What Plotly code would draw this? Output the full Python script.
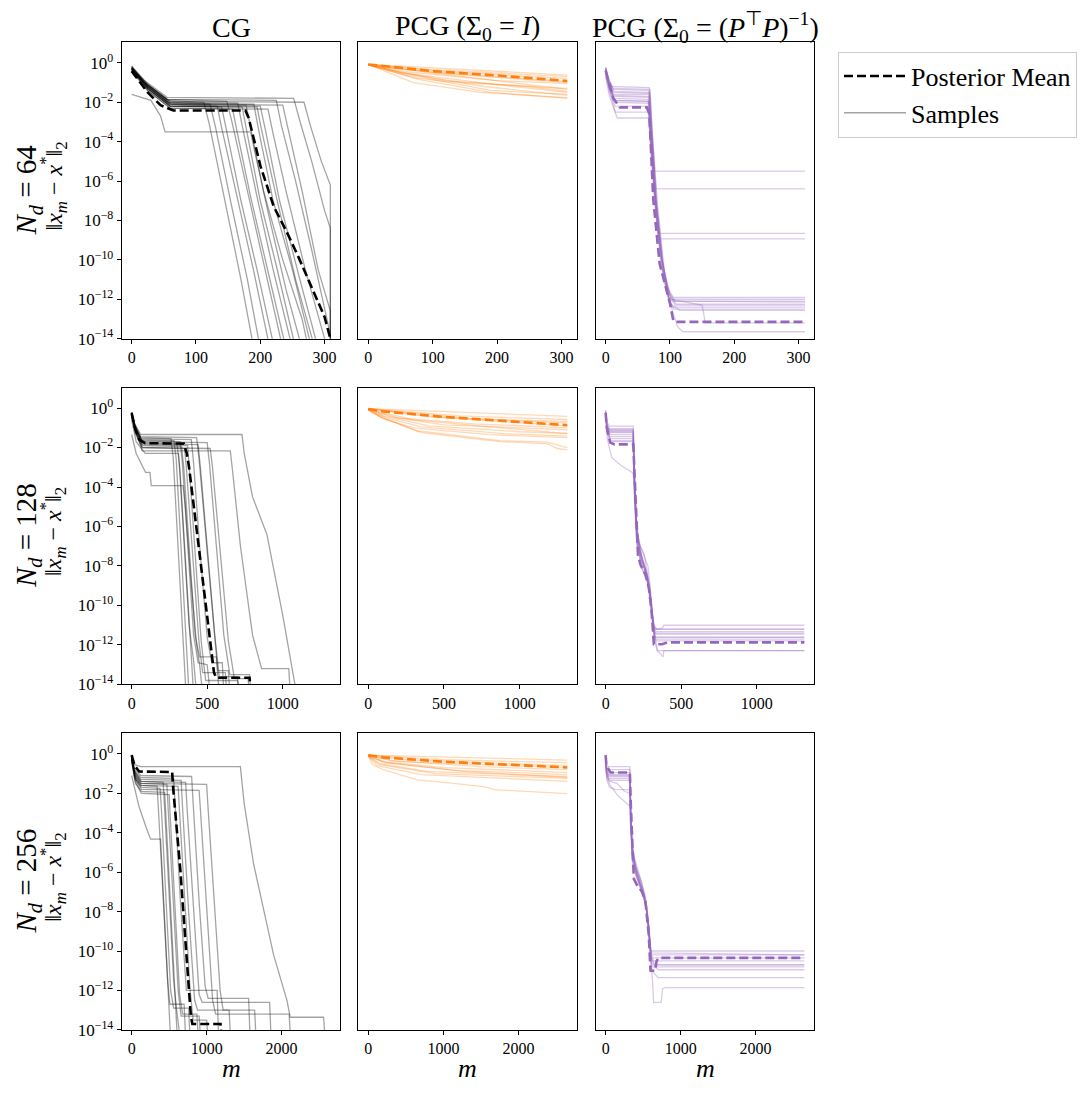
import plotly.graph_objects as go

# ---------------- data: (m, log10 error) keyframes ----------------
cg64_mean = [(0,-0.42),(10,-0.85),(25,-1.5),(45,-2.15),(65,-2.42),(177,-2.42),(182,-2.8),(200,-5.2),(221,-7.3),(240,-8.5),(260,-9.9),(280,-11.4),(300,-12.9),(309,-14.0)]
cg64_samples = [
 [(0,-0.2),(20,-1.0),(55,-1.9),(112,-2.0),(120,-3.0),(145,-7.0),(170,-11.0),(190,-14.5)],
 [(0,-0.3),(20,-1.1),(55,-2.0),(122,-2.1),(130,-3.2),(155,-7.2),(180,-11.0),(200,-14.5)],
 [(0,-0.25),(25,-1.2),(60,-2.1),(133,-2.2),(140,-3.3),(165,-7.0),(190,-10.6),(215,-14.5)],
 [(0,-0.35),(25,-1.3),(60,-2.2),(140,-2.25),(148,-3.5),(170,-7.0),(195,-10.5),(222,-14.5)],
 [(0,-0.3),(20,-1.0),(55,-1.85),(148,-1.95),(156,-3.0),(180,-6.5),(205,-10.0),(235,-14.5)],
 [(0,-0.4),(25,-1.4),(60,-2.3),(157,-2.35),(164,-3.5),(185,-6.8),(210,-10.3),(240,-14.5)],
 [(0,-0.2),(25,-1.1),(60,-2.0),(165,-2.05),(172,-3.2),(195,-6.8),(220,-10.5),(250,-14.5)],
 [(0,-0.3),(25,-1.3),(60,-2.2),(172,-2.25),(178,-3.3),(200,-7.0),(225,-10.3),(255,-14.5)],
 [(0,-1.6),(30,-1.9),(45,-2.7),(52,-3.5),(185,-3.5),(192,-4.6),(215,-8.0),(240,-11.5),(265,-14.5)],
 [(0,-0.35),(25,-1.2),(60,-2.1),(178,-2.15),(185,-3.3),(205,-6.5),(235,-10.0),(265,-13.0),(275,-14.5)],
 [(0,-0.25),(25,-1.2),(60,-2.05),(190,-2.1),(198,-3.5),(220,-7.0),(250,-10.5),(280,-14.5)],
 [(0,-0.3),(25,-1.3),(60,-2.2),(200,-2.2),(208,-3.4),(230,-7.0),(260,-10.8),(290,-14.5)],
 [(0,-0.4),(25,-1.4),(60,-2.3),(212,-2.35),(220,-3.6),(240,-6.5),(270,-10.5),(300,-14.0),(303,-15)],
 [(0,-0.2),(20,-1.0),(55,-1.85),(225,-1.9),(233,-3.2),(255,-6.0),(280,-9.5),(305,-13.3),(309,-13.8),(309,-15)],
 [(0,-0.3),(25,-1.2),(60,-2.1),(235,-2.15),(245,-3.6),(265,-6.5),(290,-10.5),(309,-12.6),(309,-15)],
 [(0,-0.15),(20,-0.9),(55,-1.75),(252,-1.8),(262,-3.0),(280,-5.0),(300,-7.5),(309,-8.4),(309,-15)],
 [(0,-0.25),(25,-1.1),(60,-1.95),(268,-2.0),(278,-3.2),(295,-5.0),(309,-6.2),(309,-15)],
 [(0,-0.3),(25,-1.3),(60,-2.2),(195,-2.25),(202,-3.4),(225,-6.8),(255,-11.0),(285,-14.5)],
]

pcgI64_mean = [(0,-0.08),(101,-0.42),(199,-0.64),(309,-0.92)]
pcgI64_samples = [
 [(0,-0.08),(309,-0.62)],
 [(0,-0.08),(100,-0.35),(309,-0.7)],
 [(0,-0.08),(50,-0.3),(150,-0.6),(309,-0.95)],
 [(0,-0.1),(60,-0.45),(200,-0.9),(309,-1.05)],
 [(0,-0.1),(70,-0.75),(120,-0.95),(309,-1.3)],
 [(0,-0.08),(40,-0.4),(120,-0.9),(250,-1.2),(309,-1.45)],
 [(0,-0.1),(60,-0.6),(190,-1.4),(309,-1.6)],
 [(0,-0.08),(70,-1.0),(174,-1.5),(309,-1.76)],
 [(0,-0.1),(80,-0.85),(190,-1.5),(309,-1.8)],
 [(0,-0.08),(50,-0.5),(200,-1.1),(309,-1.5)],
 [(0,-0.1),(100,-0.5),(309,-1.0)],
 [(0,-0.1),(150,-0.7),(250,-1.1),(309,-1.35)],
 [(0,-0.08),(120,-0.45),(309,-0.8)],
 [(0,-0.1),(60,-0.55),(180,-1.2),(309,-1.65)],
]

pcgP64_mean = [(0,-0.4),(5,-1.0),(12,-1.8),(22,-2.26),(64,-2.26),(68,-2.6),(74,-6.9),(84,-10.2),(100,-12.2),(105,-13.06),(108,-13.15),(310,-13.15)]
pcgP64_samples = [
 [(0,-0.2),(4,-0.8),(10,-1.2),(68,-1.26),(71,-3.0),(76,-5.5),(310,-5.5)],
 [(0,-0.3),(5,-0.9),(12,-1.35),(67,-1.4),(70,-3.2),(76,-6.0),(78,-6.4),(310,-6.4)],
 [(0,-0.4),(5,-1.0),(12,-1.5),(68,-1.55),(71,-3.4),(78,-7.0),(81,-8.66),(310,-8.66)],
 [(0,-0.35),(5,-1.1),(12,-1.65),(67,-1.7),(70,-3.5),(78,-7.0),(84,-8.93),(310,-8.93)],
 [(0,-0.3),(5,-1.0),(12,-1.8),(66,-1.85),(69,-3.4),(76,-6.5),(85,-9.5),(95,-11.3),(105,-11.9),(310,-11.9)],
 [(0,-0.5),(5,-1.2),(14,-1.9),(67,-1.95),(70,-3.6),(77,-6.8),(86,-9.8),(98,-11.6),(108,-12.1),(310,-12.1)],
 [(0,-0.4),(6,-1.3),(15,-2.0),(68,-2.05),(71,-3.8),(78,-7.0),(88,-10.0),(100,-11.8),(110,-12.25),(310,-12.25)],
 [(0,-0.6),(6,-1.5),(15,-2.2),(66,-2.2),(69,-3.8),(76,-7.0),(86,-10.2),(96,-11.8),(104,-12.4),(310,-12.4)],
 [(0,-0.3),(5,-1.2),(15,-2.5),(67,-2.5),(70,-4.0),(78,-7.5),(88,-10.5),(98,-12.0),(106,-12.5),(310,-12.5)],
 [(0,-0.7),(6,-1.7),(18,-2.8),(67,-2.8),(70,-4.2),(78,-7.5),(90,-10.8),(100,-12.2),(115,-12.56),(310,-12.56)],
 [(0,-0.45),(5,-1.1),(12,-1.6),(68,-1.6),(71,-3.4),(78,-6.9),(87,-9.9),(97,-11.6),(108,-12.3),(310,-12.3)],
 [(0,-0.35),(5,-1.0),(13,-1.45),(69,-1.5),(72,-3.3),(80,-7.2),(90,-10.5),(100,-12.2),(112,-13.4),(120,-13.65),(310,-13.65)],
 [(0,-0.5),(6,-1.3),(14,-1.9),(67,-1.95),(70,-3.7),(78,-7.0),(88,-10.2),(98,-11.9),(105,-12.0),(310,-12.0)],
 [(0,-0.3),(5,-0.9),(12,-1.7),(68,-1.75),(71,-3.5),(79,-7.2),(89,-10.3),(99,-12.0),(150,-12.3),(155,-13.2),(310,-13.2)],
 [(0,-0.25),(5,-0.85),(12,-1.3),(69,-1.35),(72,-3.2),(80,-7.0),(92,-10.8),(102,-12.1),(310,-12.15)],
]

cg128_mean = [(0,-0.25),(20,-0.95),(50,-1.6),(90,-1.78),(345,-1.8),(365,-2.3),(380,-3.0),(455,-7.8),(530,-12.6),(545,-13.4),(560,-13.66),(780,-13.66),(790,-14.5)]
cg128_samples = [
 [(0,-0.3),(20,-1.0),(60,-1.5),(260,-1.55),(275,-2.5),(300,-6.0),(330,-10.5),(360,-14.5)],
 [(0,-0.25),(20,-0.9),(60,-1.6),(280,-1.65),(295,-2.6),(320,-6.0),(350,-10.5),(380,-14.5)],
 [(0,-0.35),(25,-1.1),(70,-1.75),(300,-1.8),(315,-2.8),(345,-6.5),(380,-11.0),(410,-12.8),(430,-14.5)],
 [(0,-0.3),(25,-1.0),(70,-1.65),(320,-1.7),(335,-2.7),(370,-6.8),(410,-11.5),(440,-12.9),(500,-13.0),(520,-14.5)],
 [(0,-0.4),(25,-1.2),(70,-1.9),(330,-1.95),(345,-3.0),(380,-7.0),(420,-11.5),(450,-12.6),(560,-12.6),(580,-14.5)],
 [(0,-1.34),(30,-2.3),(92,-3.26),(121,-3.26),(130,-3.93),(340,-3.93),(355,-5.0),(390,-8.5),(430,-12.0),(450,-13.0),(470,-14.5)],
 [(0,-0.45),(25,-1.3),(70,-2.0),(350,-2.05),(362,-3.0),(400,-7.0),(445,-11.8),(470,-13.4),(620,-13.4),(630,-14.5)],
 [(0,-0.2),(20,-0.8),(60,-1.45),(430,-1.5),(445,-2.5),(490,-6.5),(540,-11.0),(570,-13.3),(640,-13.3),(650,-14.5)],
 [(0,-0.3),(25,-1.1),(70,-1.8),(440,-1.85),(455,-3.0),(500,-7.0),(550,-11.5),(580,-13.6),(700,-13.6),(710,-14.5)],
 [(0,-0.25),(25,-1.0),(70,-1.7),(500,-1.75),(515,-2.8),(560,-7.0),(610,-11.5),(650,-13.5),(780,-13.5),(790,-14.5)],
 [(0,-0.35),(25,-1.2),(70,-2.0),(520,-2.05),(535,-3.0),(590,-7.5),(640,-11.8),(680,-13.7),(770,-13.7),(780,-14.5)],
 [(0,-0.2),(20,-0.8),(60,-1.34),(730,-1.34),(745,-2.3),(800,-4.5),(895,-6.4),(1000,-10.5),(1092,-14.5)],
 [(0,-0.3),(25,-1.1),(70,-2.17),(653,-2.17),(668,-3.2),(720,-7.0),(800,-11.5),(860,-13.2),(1040,-13.2),(1050,-14.5)],
 [(0,-0.3),(25,-1.2),(70,-1.85),(370,-1.9),(383,-3.2),(420,-7.2),(460,-11.8),(490,-13.8),(700,-13.8),(720,-14.5)],
 [(0,-0.25),(20,-1.0),(60,-1.55),(395,-1.6),(410,-2.8),(450,-7.0),(500,-11.6),(530,-12.9),(600,-12.9),(610,-14.5)],
 [(0,-0.6),(30,-1.7),(90,-2.3),(310,-2.3),(322,-3.4),(355,-7.5),(390,-11.8),(410,-14.5)],
]

pcgI128_mean = [(0,-0.05),(100,-0.17),(500,-0.45),(1000,-0.7),(1315,-0.87)]
pcgI128_samples = [
 [(0,-0.03),(1315,-0.42)],
 [(0,-0.03),(600,-0.4),(1315,-0.58)],
 [(0,-0.03),(400,-0.45),(1315,-0.75)],
 [(0,-0.05),(200,-0.5),(700,-0.8),(1315,-1.0)],
 [(0,-0.05),(150,-0.45),(500,-0.85),(1315,-1.1)],
 [(0,-0.05),(100,-0.4),(400,-0.9),(1000,-1.2),(1315,-1.28)],
 [(0,-0.08),(120,-0.5),(350,-0.95),(900,-1.3),(1315,-1.42)],
 [(0,-0.08),(100,-0.55),(300,-1.0),(800,-1.35),(1315,-1.5)],
 [(0,-0.1),(80,-0.45),(320,-1.15),(870,-1.65),(1180,-1.73),(1315,-2.0)],
 [(0,-0.12),(100,-0.5),(350,-1.25),(870,-1.7),(1180,-1.8),(1250,-2.05),(1315,-2.12)],
 [(0,-0.05),(300,-0.6),(1315,-1.3)],
 [(0,-0.03),(500,-0.5),(1315,-0.9)],
 [(0,-0.04),(700,-0.55),(1315,-0.68)],
]

pcgP128_mean = [(0,-0.25),(8,-1.0),(30,-1.75),(60,-1.84),(183,-1.84),(198,-4.77),(214,-7.44),(231,-7.94),(264,-8.44),(286,-9.11),(302,-10.12),(315,-11.45),(319,-11.96),(374,-11.96),(407,-11.87),(1315,-11.87)]
pcgP128_samples = [
 [(0,-0.1),(8,-0.7),(25,-0.92),(183,-0.92),(190,-3.0),(205,-6.0),(225,-7.2),(260,-8.0),(290,-9.0),(310,-10.5),(325,-11.2),(1315,-11.2)],
 [(0,-0.2),(8,-0.8),(25,-1.05),(182,-1.05),(190,-3.2),(206,-6.3),(230,-7.5),(270,-8.3),(295,-9.4),(315,-10.8),(330,-11.32),(1315,-11.32)],
 [(0,-0.15),(8,-0.9),(25,-1.15),(184,-1.15),(192,-3.5),(208,-6.6),(240,-7.2),(280,-8.0),(300,-9.5),(318,-11.0),(340,-11.2),(375,-11.15),(385,-11.0),(1315,-11.0)],
 [(0,-0.3),(10,-1.0),(30,-1.25),(181,-1.25),(188,-3.3),(200,-5.5),(215,-6.5),(240,-7.8),(275,-8.6),(300,-9.8),(320,-11.3),(335,-11.45),(1315,-11.45)],
 [(0,-0.25),(10,-1.1),(30,-1.35),(183,-1.35),(190,-3.6),(205,-6.2),(230,-7.0),(255,-7.4),(285,-8.8),(310,-10.6),(325,-11.6),(1315,-11.62)],
 [(0,-0.4),(10,-1.2),(30,-1.45),(182,-1.45),(190,-3.6),(206,-6.5),(235,-7.6),(270,-8.4),(300,-9.8),(318,-11.2),(330,-11.7),(1315,-11.7)],
 [(0,-0.2),(10,-1.0),(30,-1.55),(183,-1.55),(191,-3.7),(207,-6.8),(235,-8.0),(280,-8.9),(305,-10.5),(322,-11.5),(335,-11.79),(1315,-11.79)],
 [(0,-0.5),(10,-1.3),(30,-1.65),(182,-1.65),(189,-3.8),(204,-6.6),(230,-7.6),(265,-8.3),(295,-9.5),(316,-11.3),(345,-12.3),(380,-12.6),(385,-12.29),(1315,-12.29)],
 [(0,-0.6),(12,-1.6),(40,-2.5),(100,-2.9),(176,-3.26),(184,-3.4),(192,-5.0),(210,-7.0),(250,-7.8),(290,-9.2),(315,-11.0),(330,-11.6),(1315,-11.6)],
 [(0,-0.35),(10,-1.1),(30,-1.7),(183,-1.7),(191,-3.9),(207,-6.9),(240,-8.1),(275,-8.7),(300,-10.0),(320,-11.6),(340,-12.3),(370,-12.29),(1315,-12.29)],
 [(0,-0.3),(10,-1.05),(30,-1.2),(181,-1.2),(188,-3.2),(202,-5.8),(228,-7.1),(262,-8.2),(292,-9.3),(312,-10.9),(328,-11.2),(1315,-11.2)],
 [(0,-0.2),(10,-0.95),(30,-1.1),(182,-1.1),(189,-3.4),(206,-6.4),(245,-7.7),(282,-8.6),(306,-10.3),(322,-11.4),(1315,-11.4)],
]

cg256_mean = [(0,-0.07),(40,-0.6),(100,-0.9),(540,-0.92),(555,-1.8),(600,-3.8),(652,-6.0),(700,-8.6),(765,-12.0),(790,-13.3),(810,-13.7),(1185,-13.7),(1200,-14.5)]
cg256_samples = [
 [(0,-0.2),(40,-1.2),(120,-1.6),(340,-1.65),(360,-3.0),(420,-7.0),(480,-11.5),(510,-12.7),(700,-12.7),(720,-14.5)],
 [(0,-0.3),(50,-1.3),(130,-1.7),(380,-1.75),(400,-3.0),(460,-7.5),(520,-12.0),(560,-12.9),(760,-12.9),(780,-14.5)],
 [(0,-0.25),(40,-1.0),(120,-1.4),(420,-1.45),(440,-2.8),(500,-7.0),(560,-11.5),(600,-13.0),(650,-14.5)],
 [(0,-0.2),(40,-1.1),(120,-1.5),(470,-1.55),(490,-3.0),(560,-8.0),(620,-12.0),(660,-13.3),(900,-13.3),(920,-14.5)],
 [(0,-1.1),(100,-2.7),(200,-3.8),(253,-4.33),(386,-4.33),(400,-5.5),(460,-10.0),(500,-13.0),(520,-14.5)],
 [(0,-0.35),(50,-1.4),(130,-2.0),(500,-2.07),(515,-3.2),(580,-8.0),(640,-12.2),(680,-13.2),(870,-13.2),(890,-14.5)],
 [(0,-0.15),(40,-0.9),(120,-1.2),(560,-1.25),(580,-2.6),(650,-7.5),(730,-12.0),(1140,-12.0),(1160,-14.5)],
 [(0,-0.3),(50,-1.2),(130,-1.6),(620,-1.65),(640,-3.0),(700,-7.0),(780,-12.0),(820,-13.5),(1000,-13.5),(1020,-14.5)],
 [(0,-0.2),(40,-0.9),(120,-1.3),(660,-1.35),(680,-2.8),(760,-8.0),(840,-12.5),(880,-13.0),(1300,-13.0),(1320,-14.5)],
 [(0,-0.1),(40,-0.8),(120,-1.1),(800,-1.15),(820,-2.5),(900,-7.5),(980,-11.8),(1020,-12.4),(1560,-12.4),(1580,-14.5)],
 [(0,-0.25),(50,-1.1),(130,-1.5),(1000,-1.55),(1020,-2.8),(1100,-7.5),(1180,-12.0),(1220,-13.0),(1640,-13.0),(1660,-14.5)],
 [(0,-0.05),(40,-0.55),(120,-0.65),(1450,-0.65),(1500,-2.5),(1627,-5.6),(1893,-10.2),(2071,-12.5),(2115,-13.36),(2560,-13.36),(2580,-14.5)],
 [(0,-0.2),(50,-1.0),(130,-1.4),(720,-1.45),(740,-2.8),(820,-7.5),(900,-12.2),(940,-12.6),(1840,-12.6),(1860,-14.5)],
 [(0,-0.3),(50,-1.3),(130,-1.8),(900,-1.85),(920,-3.0),(1000,-8.0),(1080,-12.5),(1120,-13.2),(2100,-13.2),(2120,-14.5)],
 [(0,-0.4),(50,-1.5),(130,-1.9),(440,-1.95),(458,-3.2),(520,-8.0),(580,-12.3),(610,-14.5)],
]

pcgI256_mean = [(0,-0.07),(200,-0.18),(1000,-0.4),(2000,-0.57),(2650,-0.69)]
pcgI256_samples = [
 [(0,-0.07),(2650,-0.32)],
 [(0,-0.07),(1000,-0.3),(2650,-0.45)],
 [(0,-0.07),(500,-0.3),(2650,-0.6)],
 [(0,-0.08),(300,-0.35),(1500,-0.65),(2650,-0.8)],
 [(0,-0.1),(200,-0.4),(1000,-0.7),(2650,-0.95)],
 [(0,-0.1),(200,-0.45),(1200,-0.85),(2650,-1.05)],
 [(0,-0.1),(150,-0.5),(800,-0.9),(2650,-1.15)],
 [(0,-0.12),(150,-0.55),(900,-1.0),(2650,-1.25)],
 [(0,-0.12),(120,-0.6),(700,-1.05),(2000,-1.3),(2650,-1.4)],
 [(0,-0.07),(53,-0.54),(209,-0.82),(653,-1.32),(1098,-1.49),(1542,-1.66),(1676,-1.82),(2650,-2.02)],
 [(0,-0.08),(400,-0.4),(2650,-0.7)],
 [(0,-0.09),(250,-0.45),(1300,-0.9),(2650,-1.2)],
]

pcgP256_mean = [(0,-0.07),(10,-0.6),(66,-0.95),(323,-0.95),(335,-2.5),(354,-4.5),(376,-6.34),(420,-6.67),(487,-7.0),(531,-7.5),(575,-9.18),(597,-10.9),(600,-11.0),(660,-11.0),(680,-10.5),(708,-10.35),(2650,-10.35)]
pcgP256_samples = [
 [(0,-0.1),(10,-0.5),(40,-0.65),(322,-0.65),(332,-2.5),(350,-4.3),(380,-5.2),(430,-5.9),(480,-6.6),(530,-7.2),(570,-8.5),(600,-10.0),(2650,-10.0)],
 [(0,-0.05),(10,-0.6),(40,-0.8),(325,-0.8),(335,-2.8),(352,-4.5),(390,-5.6),(440,-6.2),(500,-6.9),(550,-7.8),(585,-9.2),(610,-10.2),(2650,-10.2)],
 [(0,-0.15),(12,-0.75),(40,-0.95),(324,-0.95),(334,-3.0),(355,-4.8),(400,-5.8),(460,-6.5),(520,-7.3),(565,-8.4),(595,-9.8),(620,-10.35),(2650,-10.35)],
 [(0,-0.2),(12,-0.8),(40,-1.05),(323,-1.05),(333,-3.0),(356,-5.0),(410,-6.0),(470,-6.7),(530,-7.5),(575,-8.8),(605,-10.2),(640,-10.5),(2650,-10.5)],
 [(0,-0.25),(12,-0.9),(40,-1.15),(326,-1.15),(336,-3.2),(358,-5.2),(420,-6.3),(480,-6.9),(540,-7.7),(580,-9.0),(610,-10.4),(660,-10.7),(2650,-10.7)],
 [(0,-0.3),(12,-1.0),(40,-1.25),(324,-1.25),(334,-3.3),(357,-5.1),(415,-6.1),(475,-6.8),(535,-7.6),(578,-9.0),(608,-10.6),(700,-10.95),(2650,-10.95)],
 [(0,-0.35),(15,-1.1),(60,-1.4),(150,-1.5),(250,-1.9),(320,-2.0),(330,-3.5),(355,-5.0),(410,-5.8),(480,-6.5),(540,-7.8),(585,-9.5),(615,-11.0),(700,-11.35),(2650,-11.35)],
 [(0,-0.4),(15,-1.2),(60,-1.6),(160,-2.1),(250,-2.4),(325,-2.66),(335,-3.8),(360,-5.5),(420,-6.3),(490,-7.0),(550,-8.0),(590,-9.8),(625,-11.5),(640,-12.6),(740,-12.6),(760,-11.9),(800,-11.86),(2650,-11.86)],
 [(0,-0.3),(12,-0.95),(40,-1.35),(322,-1.35),(332,-3.4),(355,-5.3),(405,-6.2),(465,-6.9),(525,-7.4),(570,-8.6),(600,-10.3),(650,-10.7),(2650,-10.7)],
 [(0,-0.2),(12,-0.85),(40,-1.1),(325,-1.1),(335,-3.1),(356,-4.9),(410,-5.9),(470,-6.6),(525,-7.3),(572,-8.7),(602,-10.1),(2650,-10.2)],
 [(0,-0.45),(15,-1.3),(50,-1.7),(120,-1.8),(300,-1.82),(328,-1.85),(338,-3.6),(360,-5.4),(420,-6.2),(485,-6.9),(545,-7.9),(588,-9.6),(618,-10.8),(2650,-10.8)],
]

row_sizes = ["64", "128", "256"]
col_titles = ["CG",
              "PCG (Σ<sub>0</sub> = <i>I</i>)",
              "PCG (Σ<sub>0</sub> = (<i>P</i><sup>⊤</sup><i>P</i>)<sup>−1</sup>)"]
x_ticks = [[0, 100, 200, 300], [0, 500, 1000], [0, 1000, 2000]]
x_max = [309, 1315, 2650]
y_tick_exps = [0, -2, -4, -6, -8, -10, -12, -14]

panels = [
    [(cg64_samples, cg64_mean), (pcgI64_samples, pcgI64_mean), (pcgP64_samples, pcgP64_mean)],
    [(cg128_samples, cg128_mean), (pcgI128_samples, pcgI128_mean), (pcgP128_samples, pcgP128_mean)],
    [(cg256_samples, cg256_mean), (pcgI256_samples, pcgI256_mean), (pcgP256_samples, pcgP256_mean)],
]

# ---------------- styling / layout ----------------
W, H = 1089, 1095
OFF = 8  # page body margin in the browser
FONT = "Liberation Serif"
sample_colors = ["rgba(0,0,0,0.36)", "rgba(255,127,14,0.3)", "rgba(148,103,189,0.35)"]
mean_colors = ["#000000", "#ff7f0e", "#9467bd"]
col_px = [(121.7, 340.3), (358.3, 577.3), (595.7, 814.3)]
row_px = [(42.7, 341.7), (391.0, 690.7), (740.0, 1039.3)]


def px(xp):
    return (xp - OFF) / W


def py(yp):
    return 1 - (yp - OFF) / H


def xy(pts):
    return [p[0] for p in pts], [10 ** p[1] for p in pts]


fig = go.Figure()
layout = dict(width=W, height=H, margin=dict(l=0, r=0, t=0, b=0),
              paper_bgcolor="white", plot_bgcolor="white",
              font=dict(family=FONT, size=15, color="black"),
              hovermode=False, annotations=[])

for r in range(3):
    for c in range(3):
        idx = r * 3 + c + 1
        xa = "x" if idx == 1 else f"x{idx}"
        ya = "y" if idx == 1 else f"y{idx}"
        samples, mean = panels[r][c]
        for s in samples:
            x, y = xy(s)
            fig.add_trace(go.Scatter(x=x, y=y, mode="lines", xaxis=xa, yaxis=ya,
                                     line=dict(color=sample_colors[c], width=1.3),
                                     showlegend=False))
        x, y = xy(mean)
        fig.add_trace(go.Scatter(x=x, y=y, mode="lines", xaxis=xa, yaxis=ya,
                                 line=dict(color=mean_colors[c], width=2.6, dash="9px,4px"),
                                 showlegend=False))
        m = x_max[r]
        x0, x1 = col_px[c]
        y0, y1 = row_px[r]
        layout["xaxis" if idx == 1 else f"xaxis{idx}"] = dict(
            domain=[px(x0), px(x1)], anchor=ya, range=[-0.05 * m, 1.05 * m],
            showline=True, mirror=True, linecolor="black", linewidth=1,
            ticks="outside", ticklen=4, tickwidth=1, tickcolor="black",
            tickvals=x_ticks[r], ticktext=[str(t) for t in x_ticks[r]],
            showgrid=False, zeroline=False, tickfont=dict(size=16, family=FONT))
        layout["yaxis" if idx == 1 else f"yaxis{idx}"] = dict(
            domain=[py(y1), py(y0)], anchor=xa, type="log", range=[-14, 1.04],
            showline=True, mirror=True, linecolor="black", linewidth=1,
            ticks="outside" if c == 0 else "", ticklen=4, tickwidth=1, tickcolor="black",
            tickvals=[10 ** e for e in y_tick_exps],
            ticktext=[f"10<sup>{'−' if e < 0 else ''}{abs(e)}</sup>" for e in y_tick_exps],
            showticklabels=(c == 0), showgrid=False, zeroline=False,
            tickfont=dict(size=17, family=FONT))

# column titles
for c in range(3):
    x0, x1 = col_px[c]
    layout["annotations"].append(dict(text=col_titles[c], xref="paper", yref="paper",
                                      x=px((x0 + x1) / 2), y=py(28), showarrow=False,
                                      xanchor="center", yanchor="middle",
                                      font=dict(size=28, family=FONT)))
# row labels
for r in range(3):
    y0, y1 = row_px[r]
    yc = py((y0 + y1) / 2)
    layout["annotations"].append(dict(text=f"<i>N</i><sub><i>d</i></sub> = {row_sizes[r]}",
                                      xref="paper", yref="paper", x=px(28), y=yc,
                                      textangle=-90, showarrow=False,
                                      xanchor="center", yanchor="middle",
                                      font=dict(size=29, family=FONT)))
    layout["annotations"].append(dict(text="‖<i>x</i><sub><i>m</i></sub> − <i>x</i><sup>*</sup>‖<sub>2</sub>",
                                      xref="paper", yref="paper", x=px(53), y=py((y0 + y1) / 2 - 4),
                                      textangle=-90, showarrow=False,
                                      xanchor="center", yanchor="middle",
                                      font=dict(size=24, family=FONT)))
# x labels
for c in range(3):
    x0, x1 = col_px[c]
    layout["annotations"].append(dict(text="<i>m</i>", xref="paper", yref="paper",
                                      x=px((x0 + x1) / 2), y=py(1078), showarrow=False,
                                      xanchor="center", yanchor="middle",
                                      font=dict(size=26, family=FONT)))

# legend entries
fig.add_trace(go.Scatter(x=[None], y=[None], mode="lines", name="Posterior Mean",
                         line=dict(color="black", width=2.6, dash="9px,4px"), showlegend=True))
fig.add_trace(go.Scatter(x=[None], y=[None], mode="lines", name="Samples",
                         line=dict(color="rgba(0,0,0,0.36)", width=1.5), showlegend=True))

layout["legend"] = dict(x=px(838), y=py(52), xanchor="left", yanchor="top",
                        bgcolor="white", bordercolor="#cccccc", borderwidth=1,
                        font=dict(size=26, family=FONT), itemwidth=62,
                        tracegroupgap=0)
layout["showlegend"] = True

fig.update_layout(**layout)
fig.write_html("out.html")
